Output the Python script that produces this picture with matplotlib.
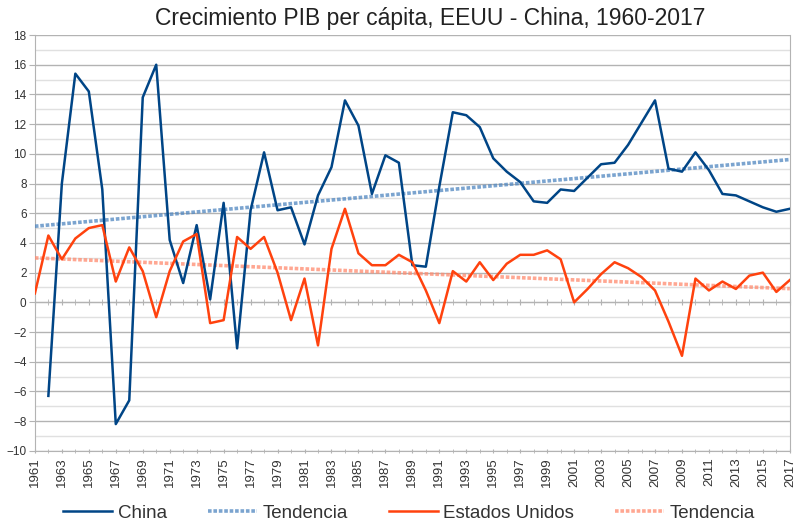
import matplotlib.pyplot as plt
import numpy as np
from matplotlib.ticker import MultipleLocator

plt.rcParams['font.family'] = ['Liberation Sans', 'DejaVu Sans']

# data (GDP per capita growth, %)
years = np.arange(1961, 2018)
china = [np.nan, -6.3, 8.0, 15.4, 14.2, 7.6, -8.2, -6.6, 13.8, 16.0,
         4.2, 1.3, 5.2, 0.2, 6.7, -3.1, 6.2, 10.1, 6.2, 6.4,
         3.9, 7.2, 9.1, 13.6, 11.9, 7.3, 9.9, 9.4, 2.5, 2.4,
         7.8, 12.8, 12.6, 11.8, 9.7, 8.8, 8.1, 6.8, 6.7, 7.6,
         7.5, 8.4, 9.3, 9.4, 10.6, 12.1, 13.6, 9.0, 8.8, 10.1,
         8.9, 7.3, 7.2, 6.8, 6.4, 6.1, 6.3]
usa = [0.6, 4.5, 2.9, 4.3, 5.0, 5.2, 1.4, 3.7, 2.1, -1.0,
       2.1, 4.1, 4.6, -1.4, -1.2, 4.4, 3.6, 4.4, 2.0, -1.2,
       1.6, -2.9, 3.6, 6.3, 3.3, 2.5, 2.5, 3.2, 2.7, 0.8,
       -1.4, 2.1, 1.4, 2.7, 1.5, 2.6, 3.2, 3.2, 3.5, 2.9,
       0.0, 0.9, 1.9, 2.7, 2.3, 1.7, 0.8, -1.3, -3.6, 1.6,
       0.8, 1.4, 0.9, 1.8, 2.0, 0.7, 1.5]

china = np.array(china)
usa = np.array(usa)
blue = '#004586'
orange = '#ff420e'

fig = plt.figure(figsize=(7.93, 5.23), dpi=100)
ax = fig.add_axes([0.044, 0.138, 0.952, 0.795])

ok = ~np.isnan(china)
c_fit = np.polyfit(years[ok], china[ok], 1)
u_fit = np.polyfit(years, usa, 1)

ax.plot(years, china, color=blue, lw=1.8, label='China', zorder=4)
ax.plot(years, np.polyval(c_fit, years), color='#4f86c0', lw=2.6, ls=(0, (1, 0.5)),
        alpha=0.75, label='Tendencia', zorder=3)
ax.plot(years, usa, color=orange, lw=1.8, label='Estados Unidos', zorder=4)
ax.plot(years, np.polyval(u_fit, years), color='#ff8a6e', lw=2.6, ls=(0, (1, 0.5)),
        alpha=0.75, label='Tendencia', zorder=3)

ax.set_xlim(1961, 2017)
ax.set_ylim(-10, 18)
ax.yaxis.set_major_locator(MultipleLocator(2))
ax.yaxis.set_minor_locator(MultipleLocator(1))
ax.set_xticks(years[::2])
ax.set_xticklabels([str(y) for y in years[::2]], rotation=90)
ax.xaxis.set_minor_locator(MultipleLocator(1))
ax.grid(axis='y', which='major', color='#b3b3b3', lw=1)
ax.grid(axis='y', which='minor', color='#e0e0e0', lw=1)
ax.set_axisbelow(True)

ax.spines['top'].set_visible(False)
for side in ['left', 'right', 'bottom']:
    ax.spines[side].set_color('#b3b3b3')
ax.tick_params(axis='both', which='both', colors='#b3b3b3', labelcolor='#333333')
ax.tick_params(axis='y', which='major', length=4, labelsize=8.5, pad=2)
ax.tick_params(axis='y', which='minor', length=0)
ax.tick_params(axis='x', which='major', length=3, labelsize=9.5, pad=3, direction='inout')
ax.tick_params(axis='x', which='minor', length=3, direction='inout')

# axis line through zero
sec = ax.secondary_xaxis(10 / 28)
sec.set_xticks(years[::2])
sec.xaxis.set_minor_locator(MultipleLocator(1))
sec.set_xticklabels([])
sec.spines['bottom'].set_color('#b3b3b3')
sec.tick_params(which='both', length=4, direction='inout', colors='#b3b3b3')

fig.suptitle('Crecimiento PIB per cápita, EEUU - China, 1960-2017', x=0.542, y=0.987,
             fontsize=16.5, color='#222222')

fig.legend(loc='lower center', bbox_to_anchor=(0.516, -0.03), ncol=4, frameon=False,
           fontsize=13.5, handlelength=2.6, columnspacing=2.2, handletextpad=0.3,
           labelcolor='#333333')

fig.savefig('out.png', dpi=100)
